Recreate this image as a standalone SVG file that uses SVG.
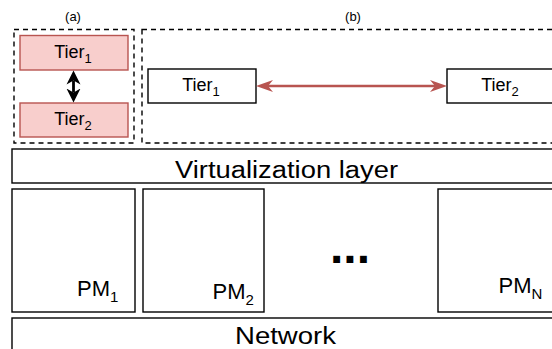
<svg xmlns="http://www.w3.org/2000/svg" width="552" height="349" viewBox="0 0 552 349">
  <style>
    text { font-family: "Liberation Sans", Arial, Helvetica, sans-serif; fill: #000; }
    .box { fill: #fff; stroke: #000; stroke-width: 1.4; }
    .tier-a { fill: #f8cecc; stroke: #b85450; stroke-width: 1.4; }
    .frame { fill: none; stroke: #000; stroke-width: 1.4; stroke-dasharray: 5 4; }
    .cap { font-size: 13px; text-anchor: middle; }
    .tier { font-size: 18px; text-anchor: middle; }
    .sub-t { font-size: 13px; }
    .pm { font-size: 22px; }
    .sub-pm { font-size: 15px; }
    .layer { font-size: 23px; }
    .link-red { stroke: #b85450; stroke-width: 2.6; fill: none; }
    .link-black { stroke: #000; stroke-width: 2.8; fill: none; }
  </style>
  <defs>
    <marker id="head-red" markerUnits="userSpaceOnUse" viewBox="-5 -7 18 14" markerWidth="18" markerHeight="14" refX="0" refY="0" orient="auto-start-reverse">
      <path d="M12,0 L-5,-6 L0,0 L-5,6 Z" fill="#b85450"/>
    </marker>
    <marker id="head-black" markerUnits="userSpaceOnUse" viewBox="-4 -8 15 16" markerWidth="15" markerHeight="16" refX="0" refY="0" orient="auto-start-reverse">
      <path d="M10,0 L-4,-7 L0,0 L-4,7 Z" fill="#000"/>
    </marker>
  </defs>

  <rect x="0" y="0" width="552" height="349" fill="#fff"/>

  <!-- panel captions and dashed frames -->
  <g id="panel-a">
    <text class="cap" x="73" y="20.5">(a)</text>
    <rect class="frame" x="14" y="29.5" width="120" height="113.5"/>
  </g>
  <g id="panel-b">
    <text class="cap" x="353" y="20.5">(b)</text>
    <rect class="frame" x="142" y="29.5" width="420" height="113.5"/>
  </g>

  <!-- panel (a): co-located tiers -->
  <g id="a-tier1">
    <rect class="tier-a" x="20" y="35.5" width="108" height="34.5"/>
    <text class="tier" x="73" y="58">Tier<tspan class="sub-t" dy="5">1</tspan></text>
  </g>
  <g id="a-tier2">
    <rect class="tier-a" x="20" y="103" width="108" height="34"/>
    <text class="tier" x="73" y="124.5">Tier<tspan class="sub-t" dy="5">2</tspan></text>
  </g>

  <!-- panel (b): separated tiers -->
  <g id="b-tier1">
    <rect class="box" x="148" y="69" width="108" height="34"/>
    <text class="tier" x="201" y="91">Tier<tspan class="sub-t" dy="5">1</tspan></text>
  </g>
  <g id="b-tier2">
    <rect class="box" x="447" y="69" width="108" height="34"/>
    <text class="tier" x="500" y="91">Tier<tspan class="sub-t" dy="5">2</tspan></text>
  </g>

  <!-- virtualization layer -->
  <g id="virtualization">
    <rect class="box" x="12" y="149" width="550" height="34"/>
    <text class="layer" x="175" y="178" textLength="223" lengthAdjust="spacingAndGlyphs">Virtualization layer</text>
  </g>

  <!-- physical machines -->
  <g id="pm1">
    <rect class="box" x="12" y="189" width="123" height="123"/>
    <text class="pm" x="77" y="295.5">PM<tspan class="sub-pm" dy="6">1</tspan></text>
  </g>
  <g id="pm2">
    <rect class="box" x="143" y="189" width="121" height="123"/>
    <text class="pm" x="212.5" y="298.5">PM<tspan class="sub-pm" dy="6">2</tspan></text>
  </g>
  <g id="ellipsis">
    <text x="350" y="263" font-size="48" font-weight="bold" text-anchor="middle">...</text>
  </g>
  <g id="pmN">
    <rect class="box" x="438" y="189" width="123" height="123"/>
    <text class="pm" x="498.5" y="292.5">PM<tspan class="sub-pm" dy="6">N</tspan></text>
  </g>

  <!-- network -->
  <g id="network">
    <rect class="box" x="12" y="318" width="550" height="40"/>
    <text class="layer" x="235" y="344" font-size="22" textLength="101" lengthAdjust="spacingAndGlyphs">Network</text>
  </g>

  <!-- connectors -->
  <g id="connectors">
    <line class="link-black" x1="73.5" y1="80.5" x2="73.5" y2="92.5" marker-start="url(#head-black)" marker-end="url(#head-black)"/>
    <line class="link-red" x1="268" y1="86" x2="435" y2="86" marker-start="url(#head-red)" marker-end="url(#head-red)"/>
  </g>
</svg>
